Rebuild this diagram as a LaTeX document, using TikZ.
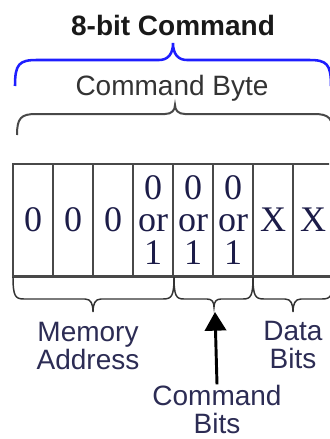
\documentclass[tikz,border=0pt]{standalone}
\usepackage{fontspec}
\setmainfont{Liberation Serif}
\setsansfont{Liberation Sans}
\usepackage{tikz}
\usetikzlibrary{arrows.meta}
\definecolor{tinta}{RGB}{28,28,72}
\definecolor{tintarotulo}{RGB}{44,44,84}
\definecolor{borde}{RGB}{72,72,72}
\definecolor{azul}{RGB}{30,30,255}
\pgfdeclarelayer{lineas_layer}
\pgfsetlayers{lineas_layer,main}
\tikzstyle{none}=[inner sep=0pt]
\tikzstyle{celda}=[draw=borde,line width=1.1pt,minimum width=30pt,minimum height=84pt,inner sep=0pt,text=tinta,font=\fontsize{27}{24.5}\selectfont,align=center]
\tikzstyle{rotulo}=[inner sep=0pt,text=tintarotulo,font=\sffamily\fontsize{21}{21}\selectfont,align=center]
\tikzstyle{titulo}=[inner sep=0pt,text=black!90,font=\sffamily\bfseries\fontsize{21}{21}\selectfont]
\tikzstyle{llave}=[draw=black!80,line width=1.1pt]
\tikzstyle{llave_byte}=[draw=borde,line width=1.5pt]
\tikzstyle{llave_cmd}=[draw=azul,line width=1.9pt]
\tikzstyle{flecha}=[draw=black,line width=2.2pt,-{Triangle[width=16pt,length=14pt]}]

\begin{document}
\begin{tikzpicture}[x=0.75pt,y=-0.75pt]
		\clip (0,0) rectangle (329,439);
		% titulos
		\node [style=titulo] (comando) at (173,25) {8-bit Command};
		\node [style=rotulo,text=black!80] (byte) at (172,88) {Command Byte};
		% celdas del byte
		\node [style=celda] (b1) at (33,220) {0};
		\node [style=celda] (b2) at (73,220) {0};
		\node [style=celda] (b3) at (113,220) {0};
		\node [style=celda] (b4) at (153,220) {0\\or\\1};
		\node [style=celda] (b5) at (193,220) {0\\or\\1};
		\node [style=celda] (b6) at (233,220) {0\\or\\1};
		\node [style=celda] (b7) at (273,220) {X};
		\node [style=celda] (b8) at (313,220) {X};
		% rotulos de abajo
		\node [style=rotulo] (memoria) at (88,346) {Memory\\Address};
		\node [style=rotulo] (datos) at (293,345) {Data\\Bits};
		\node [style=rotulo] (cmdbits) at (217,409) {Command\\Bits};
		\coordinate (punta) at (215,312);
		\begin{pgfonlayer}{lineas_layer}
			\draw [draw=borde,line width=2pt] (b1.south west) -- (b8.south east);
			% llave azul (comando de 8 bits)
			\path [style=llave_cmd] (15,86) .. controls (15,64) and (19,60) .. (37,60) -- (159,60)
				.. controls (168,60) and (173,54) .. (173,43) .. controls (173,54) and (178,60) .. (187,60)
				-- (309,60) .. controls (327,60) and (331,64) .. (331,86);
			% llave gris (byte)
			\path [style=llave_byte] (17,135) .. controls (17,118) and (21,114) .. (36,114) -- (165,114)
				.. controls (172,114) and (175,110) .. (175,105) .. controls (175,110) and (178,114) .. (185,114)
				-- (314,114) .. controls (329,114) and (333,118) .. (333,135);
			% llaves de abajo
			\path [style=llave] (13,276) .. controls (13,296) and (15,299) .. (24,299) -- (85,299)
				.. controls (91,299) and (93,304) .. (93,312) .. controls (93,304) and (95,299) .. (101,299)
				-- (163,299) .. controls (172,299) and (174,296) .. (174,276);
			\path [style=llave] (174,276) .. controls (174,296) and (176,299) .. (184,299) -- (207,299)
				.. controls (212,299) and (214,302) .. (214,307) .. controls (214,302) and (216,299) .. (221,299)
				-- (243,299) .. controls (251,299) and (253,296) .. (253,276);
			\path [style=llave] (253,276) .. controls (253,296) and (255,299) .. (264,299) -- (285,299)
				.. controls (291,299) and (293,304) .. (293,312) .. controls (293,304) and (295,299) .. (301,299)
				-- (322,299) .. controls (331,299) and (333,296) .. (333,276);
			% flecha a los bits de comando
			\path [style=flecha] (cmdbits.north) -- (punta);
		\end{pgfonlayer}
\end{tikzpicture}
\end{document}
